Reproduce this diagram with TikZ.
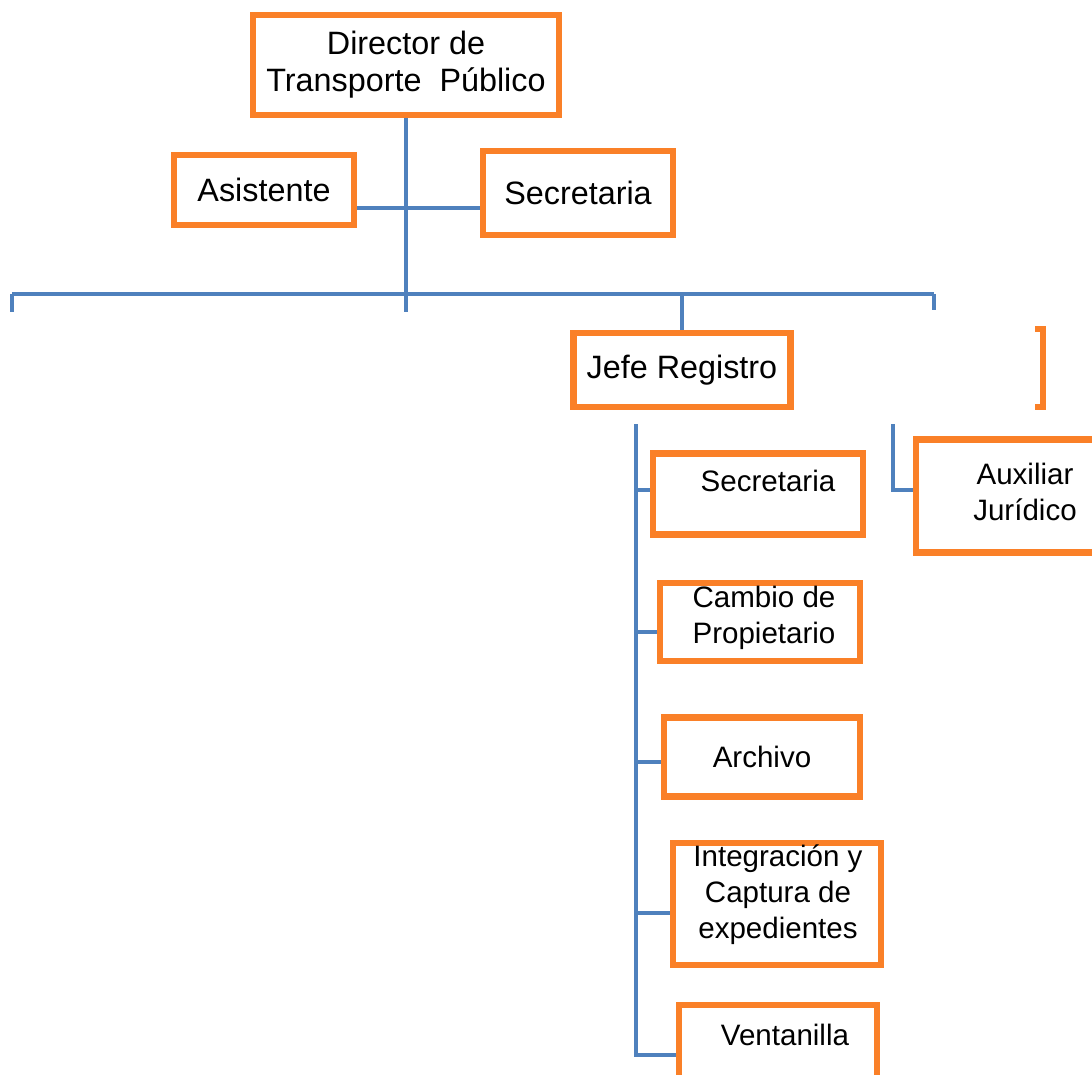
\documentclass[tikz,border=0pt]{standalone}
\usepackage{fontspec}
\setmainfont{Liberation Sans}
\usetikzlibrary{calc}
\definecolor{boxline}{RGB}{250,128,40}
\definecolor{linkline}{RGB}{79,129,189}

\begin{document}
\begin{tikzpicture}[x=0.025cm,y=-0.025cm,box/.style={draw=boxline,line width=4.8pt,fill=white,align=center,inner sep=0pt,text=black,font=\fontsize{23pt}{26.2pt}\selectfont},sub/.style={box,font=\fontsize{21pt}{25.5pt}\selectfont},lbl/.style={align=center,inner sep=0pt,text=black,font=\fontsize{21pt}{25.5pt}\selectfont},edge/.style={draw=linkline,line width=2.4pt}]
\clip (0,0) rectangle (1092,1074);
\fill[white] (0,0) rectangle (1092,1074);
\node[box,minimum width=7.65cm,minimum height=2.5cm] (dir) at (406,65) {Director de\\Transporte\ \ Público};
\node[box,minimum width=4.5cm,minimum height=1.75cm] (asis) at (264,190) {Asistente};
\node[box,minimum width=4.75cm,minimum height=2.1cm] (sec1) at (578,193) {Secretaria};
\node[box,minimum width=5.425cm,minimum height=1.85cm] (jefe) at (682,370) {Jefe Registro};
\node[sub,minimum width=5.25cm,minimum height=2.025cm] (sec2) at (758,494) {};
\node[lbl] (sec2t) at (768,481) {Secretaria};
\node[sub,minimum width=5cm,minimum height=1.95cm] (camb) at (760,622) {};
\node[lbl] (cambt) at (764,618) {Cambio de\\Propietario};
\node[sub,minimum width=4.9cm,minimum height=1.975cm] (arch) at (762,757) {Archivo};
\node[sub,minimum width=5.2cm,minimum height=3.05cm] (integ) at (777,904) {};
\node[lbl] (integt) at (778,895) {Integración y\\Captura de\\expedientes};
\node[sub,minimum width=4.95cm,minimum height=2.5cm] (vent) at (778,1055) {};
\node[lbl] (ventt) at (785,1035) {Ventanilla};
\node[sub,minimum width=4.6cm,minimum height=2.825cm] (aux) at (1008,496) {};
\node[lbl] (auxt) at (1025,492) {Auxiliar\\Jurídico};
\coordinate (busL) at (12,294);
\coordinate (busR) at (934,294);
\coordinate (regTop) at (636,424);
\coordinate (auxTop) at (893,424);
\draw[edge] (dir.south) -- ++(0,194);
\draw[edge] (asis.east |- 0,208) -- (sec1.west |- 0,208);
\draw[edge] (busL) -- (busR);
\draw[edge] (busL) -- ++(0,18);
\draw[edge] (busR) -- ++(0,16);
\draw[edge] (jefe.north |- busL) -- (jefe.north);
\draw[edge] (regTop) |- (vent.west);
\draw[edge] (regTop |- 0,490) -- (sec2.west |- 0,490);
\draw[edge] (regTop |- 0,632) -- (camb.west |- 0,632);
\draw[edge] (regTop |- 0,762) -- (arch.west |- 0,762);
\draw[edge] (regTop |- 0,913) -- (integ.west |- 0,913);
\draw[edge] (auxTop) |- (aux.west |- 0,490);
\draw[boxline,line width=4.8pt] (1035,329) -- (1043,329) -- (1043,407) -- (1035,407);
\end{tikzpicture}
\end{document}
